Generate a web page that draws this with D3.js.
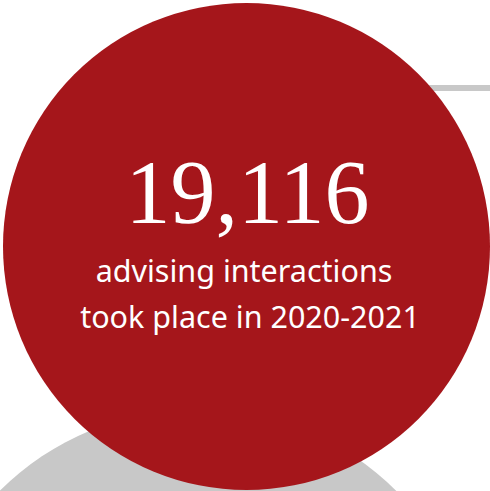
<!DOCTYPE html>
<html>
<head>
<meta charset="utf-8">
<script src="https://cdn.jsdelivr.net/npm/d3@7/dist/d3.min.js"></script>
<style>
  html, body { margin: 0; padding: 0; background: #ffffff; }
  svg { display: block; }
</style>
</head>
<body>
<div id="chart"></div>
<script>
// Data
const statValue = [19116];
const statLines = ["advising interactions", "took place in 2020-2021"];
const bubbleNames = ["main", "secondary"];

const W = 490, H = 491;
const svg = d3.select("#chart").append("svg")
  .attr("width", W).attr("height", H);

// Position scales (layout)
const x = d3.scaleLinear().domain([0, 1]).range([0, W]);
const y = d3.scaleLinear().domain([0, 1]).range([0, H]);

// Gray connector bar at top right
svg.append("rect")
  .attr("x", x(0.875)).attr("y", 85)
  .attr("width", W - x(0.875)).attr("height", 6)
  .attr("fill", "#c8c8c8");

// Gray secondary bubble (bottom-left, partially hidden)
svg.append("circle")
  .attr("cx", 198).attr("cy", 690).attr("r", 281)
  .attr("fill", "#c8c8c8");

// Main red bubble
const cx = 246.5, cy = 246.5, r = 243.5;
svg.append("circle")
  .attr("cx", cx).attr("cy", cy).attr("r", r)
  .attr("fill", "#a5161b");

const fmt = d3.format(",");
svg.append("text")
  .attr("x", 247.5).attr("y", 223)
  .attr("text-anchor", "middle")
  .attr("fill", "#ffffff")
  .style("font-family", "'Liberation Serif', 'Times New Roman', serif")
  .style("font-size", "90px")
  .text(fmt(statValue[0]));

const lineX = [244, 250];
const lineY = [282, 328];
svg.selectAll("text.sub").data(statLines).enter().append("text")
  .attr("class", "sub")
  .attr("x", (d, i) => lineX[i]).attr("y", (d, i) => lineY[i])
  .attr("text-anchor", "middle")
  .attr("fill", "#ffffff")
  .style("font-family", "'Noto Sans', sans-serif")
  .style("font-size", "30.5px")
  .text(d => d);
</script>
</body>
</html>
